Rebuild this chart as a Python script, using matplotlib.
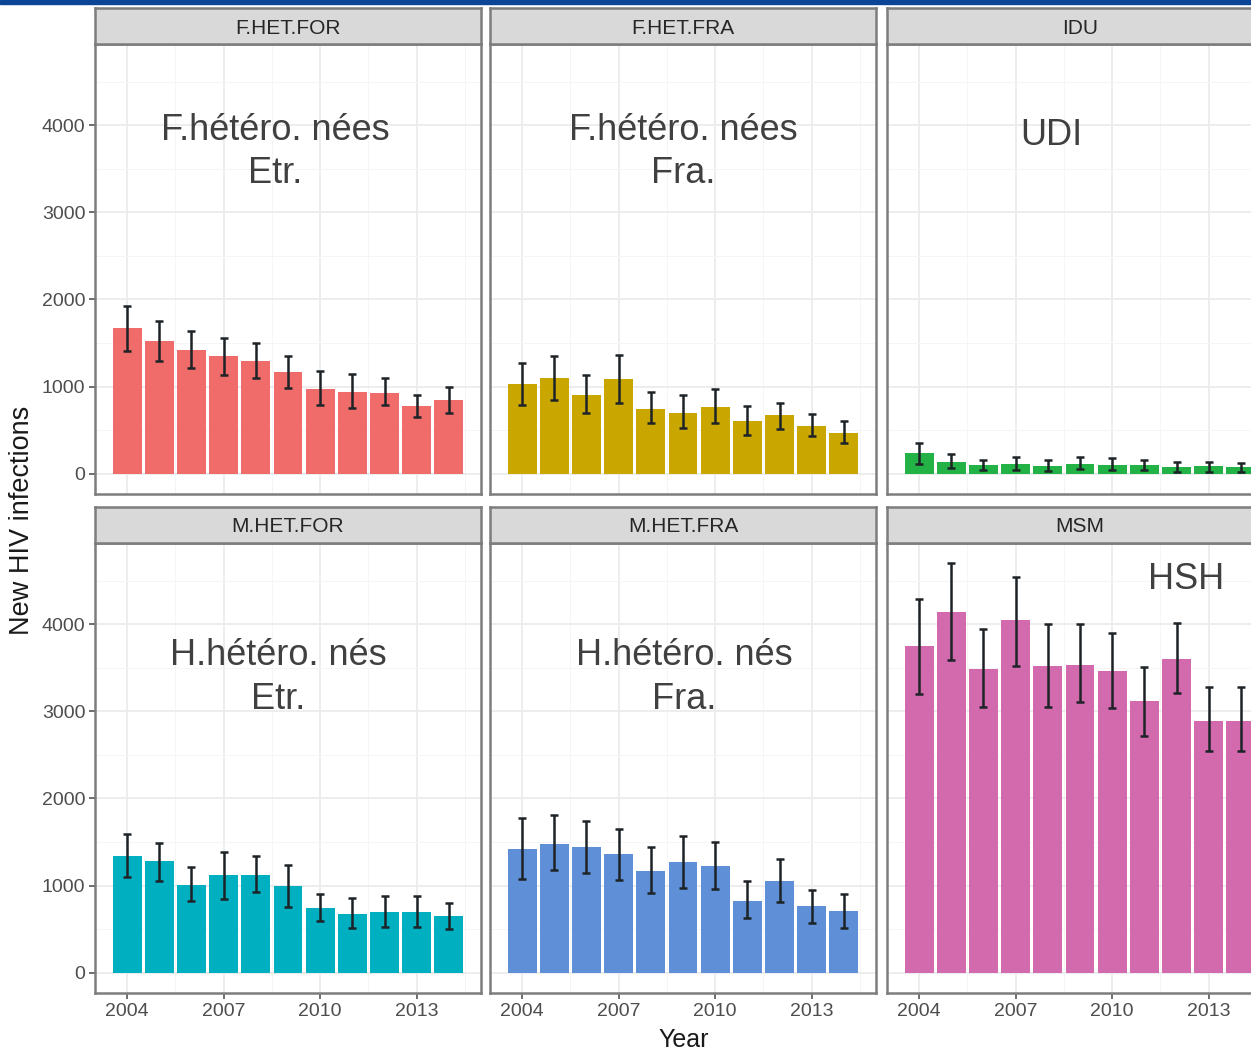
"""
按传播途径分面的 HIV 新发感染估计（2004–2014），柱状图 + 置信区间误差线。
"""

import numpy as np
import matplotlib
matplotlib.use('Agg')  # 无界面后端
import matplotlib.pyplot as plt
from matplotlib.patches import Rectangle

plt.rcParams['font.family'] = ['Liberation Sans', 'DejaVu Sans']

# ---------------- 数据 ----------------
years = list(range(2004, 2015))
tick_years = [2004, 2007, 2010, 2013]

f_het_for = [1668, 1525, 1418, 1352, 1295, 1161, 976, 942, 926, 776, 845]
f_het_for_lo = [1403, 1295, 1210, 1130, 1103, 983, 784, 757, 784, 649, 692]
f_het_for_hi = [1921, 1749, 1640, 1556, 1495, 1345, 1179, 1149, 1103, 907, 999]

f_het_fra = [1026, 1095, 899, 1084, 738, 700, 769, 603, 669, 545, 469]
f_het_fra_lo = [784, 845, 692, 815, 576, 527, 584, 438, 515, 430, 354]
f_het_fra_hi = [1268, 1345, 1130, 1364, 937, 899, 968, 776, 815, 688, 603]

idu = [239, 130, 96, 104, 84, 112, 96, 96, 77, 84, 73]
idu_lo = [115, 58, 35, 46, 27, 50, 38, 35, 23, 23, 17]
idu_hi = [354, 227, 161, 192, 153, 188, 173, 161, 130, 130, 123]

m_het_for = [1337, 1280, 1003, 1115, 1126, 991, 741, 672, 692, 692, 646]
m_het_for_lo = [1099, 1049, 818, 845, 922, 753, 596, 511, 519, 519, 504]
m_het_for_hi = [1587, 1483, 1210, 1383, 1337, 1233, 907, 857, 884, 884, 799]

m_het_fra = [1422, 1479, 1441, 1357, 1172, 1268, 1222, 826, 1057, 769, 703]
m_het_fra_lo = [1080, 1176, 1145, 1061, 914, 972, 965, 626, 810, 568, 511]
m_het_fra_hi = [1772, 1806, 1741, 1652, 1441, 1568, 1502, 1049, 1306, 945, 907]

msm = [3746, 4142, 3489, 4046, 3519, 3539, 3462, 3116, 3605, 2893, 2893]
msm_lo = [3201, 3593, 3047, 3527, 3047, 3104, 3040, 2720, 3208, 2548, 2548]
msm_hi = [4296, 4700, 3950, 4545, 4008, 4008, 3900, 3508, 4015, 3285, 3285]

panel_names = ['F.HET.FOR', 'F.HET.FRA', 'IDU', 'M.HET.FOR', 'M.HET.FRA', 'MSM']
panel_labels = ['F.hétéro. nées\nEtr.', 'F.hétéro. nées\nFra.', 'UDI',
                'H.hétéro. nés\nEtr.', 'H.hétéro. nés\nFra.', 'HSH']
label_x = [2008.6, 2009.0, 2008.1, 2008.7, 2009.05, 2012.3]
label_y = [3694, 3694, 3887, 3390, 3390, 4510]
colors = ['#F06C6A', '#C9A700', '#22B246', '#00AFC0', '#5F8FD6', '#D46AAE']

values = [f_het_for, f_het_fra, idu, m_het_for, m_het_fra, msm]
lows = [f_het_for_lo, f_het_fra_lo, idu_lo, m_het_for_lo, m_het_fra_lo, msm_lo]
highs = [f_het_for_hi, f_het_fra_hi, idu_hi, m_het_for_hi, m_het_fra_hi, msm_hi]

# ---------------- 画布 ----------------
W, H = 1251, 1051
fig = plt.figure(figsize=(W / 100, H / 100), dpi=100)
fig.patch.set_facecolor('white')

BORDER = '#7d7d7d'
col_left = [95, 490, 887]
panel_w = 386
row_top = [44, 543]      # 面板上沿（像素，自上而下）
panel_h = 450
strip_h = 36

ymax = max(max(h) for h in highs)
ylim = (-0.05 * ymax, 1.05 * ymax)
xlim = (years[0] - 0.45 - 0.545, years[-1] + 0.45 + 0.545)


def px_box(x, y_top, w, h):
    """像素坐标 -> figure 坐标"""
    return [x / W, 1 - (y_top + h) / H, w / W, h / H]


def draw_panel(i):
    r, c = divmod(i, 3)
    ax = fig.add_axes(px_box(col_left[c], row_top[r], panel_w, panel_h))
    ax.set_facecolor('white')

    # 网格：主网格 + 次网格
    ax.set_xticks(tick_years)
    ax.set_xticks([2005.5, 2008.5, 2011.5, 2014.5], minor=True)
    ax.set_yticks([0, 1000, 2000, 3000, 4000])
    ax.set_yticks([500, 1500, 2500, 3500, 4500], minor=True)
    ax.grid(which='major', color='#ececec', lw=1.3)
    ax.grid(which='minor', color='#f5f5f5', lw=0.7)
    ax.set_axisbelow(True)

    ax.bar(years, values[i], width=0.9, color=colors[i], zorder=2)
    v = np.array(values[i])
    yerr = [v - np.array(lows[i]), np.array(highs[i]) - v]
    ax.errorbar(years, v, yerr=yerr, fmt='none', ecolor='#1d2326',
                elinewidth=1.8, capsize=3.0, capthick=1.8, zorder=3)

    ax.text(label_x[i], label_y[i], panel_labels[i], ha='center', va='center',
            fontsize=26, color='#404040', linespacing=1.31, zorder=4)

    ax.set_xlim(*xlim)
    ax.set_ylim(*ylim)
    for s in ax.spines.values():
        s.set_color(BORDER)
        s.set_linewidth(1.8)

    ax.tick_params(which='minor', length=0)
    ax.tick_params(which='major', length=4, width=1.2, color='#555555',
                   labelsize=14, labelcolor='#4d4d4d', pad=3)
    if r == 0:
        ax.tick_params(axis='x', length=0, labelbottom=False)
    if c != 0:
        ax.tick_params(axis='y', length=0, labelleft=False)

    # 分面标题条
    sx = fig.add_axes(px_box(col_left[c], row_top[r] - strip_h, panel_w, strip_h))
    sx.set_facecolor('#d9d9d9')
    sx.set_xticks([])
    sx.set_yticks([])
    for s in sx.spines.values():
        s.set_color(BORDER)
        s.set_linewidth(1.8)
    sx.text(0.5, 0.5, panel_names[i], ha='center', va='center_baseline',
            fontsize=15, color='#262626', transform=sx.transAxes)
    return ax


for i in range(len(panel_names)):
    draw_panel(i)

fig.text(22 / W, 1 - 520 / H, 'New HIV infections', rotation=90,
         ha='center', va='center', fontsize=19.5, color='#1a1a1a')
fig.text(684 / W, 1 - 1040 / H, 'Year', ha='center', va='center',
         fontsize=18, color='#1a1a1a')

# 顶部蓝色条
fig.patches.append(Rectangle((0, 1 - 4 / H), 1, 4 / H, transform=fig.transFigure,
                             color='#0b4596', zorder=10))

fig.savefig('out.png', dpi=100)
plt.close(fig)
